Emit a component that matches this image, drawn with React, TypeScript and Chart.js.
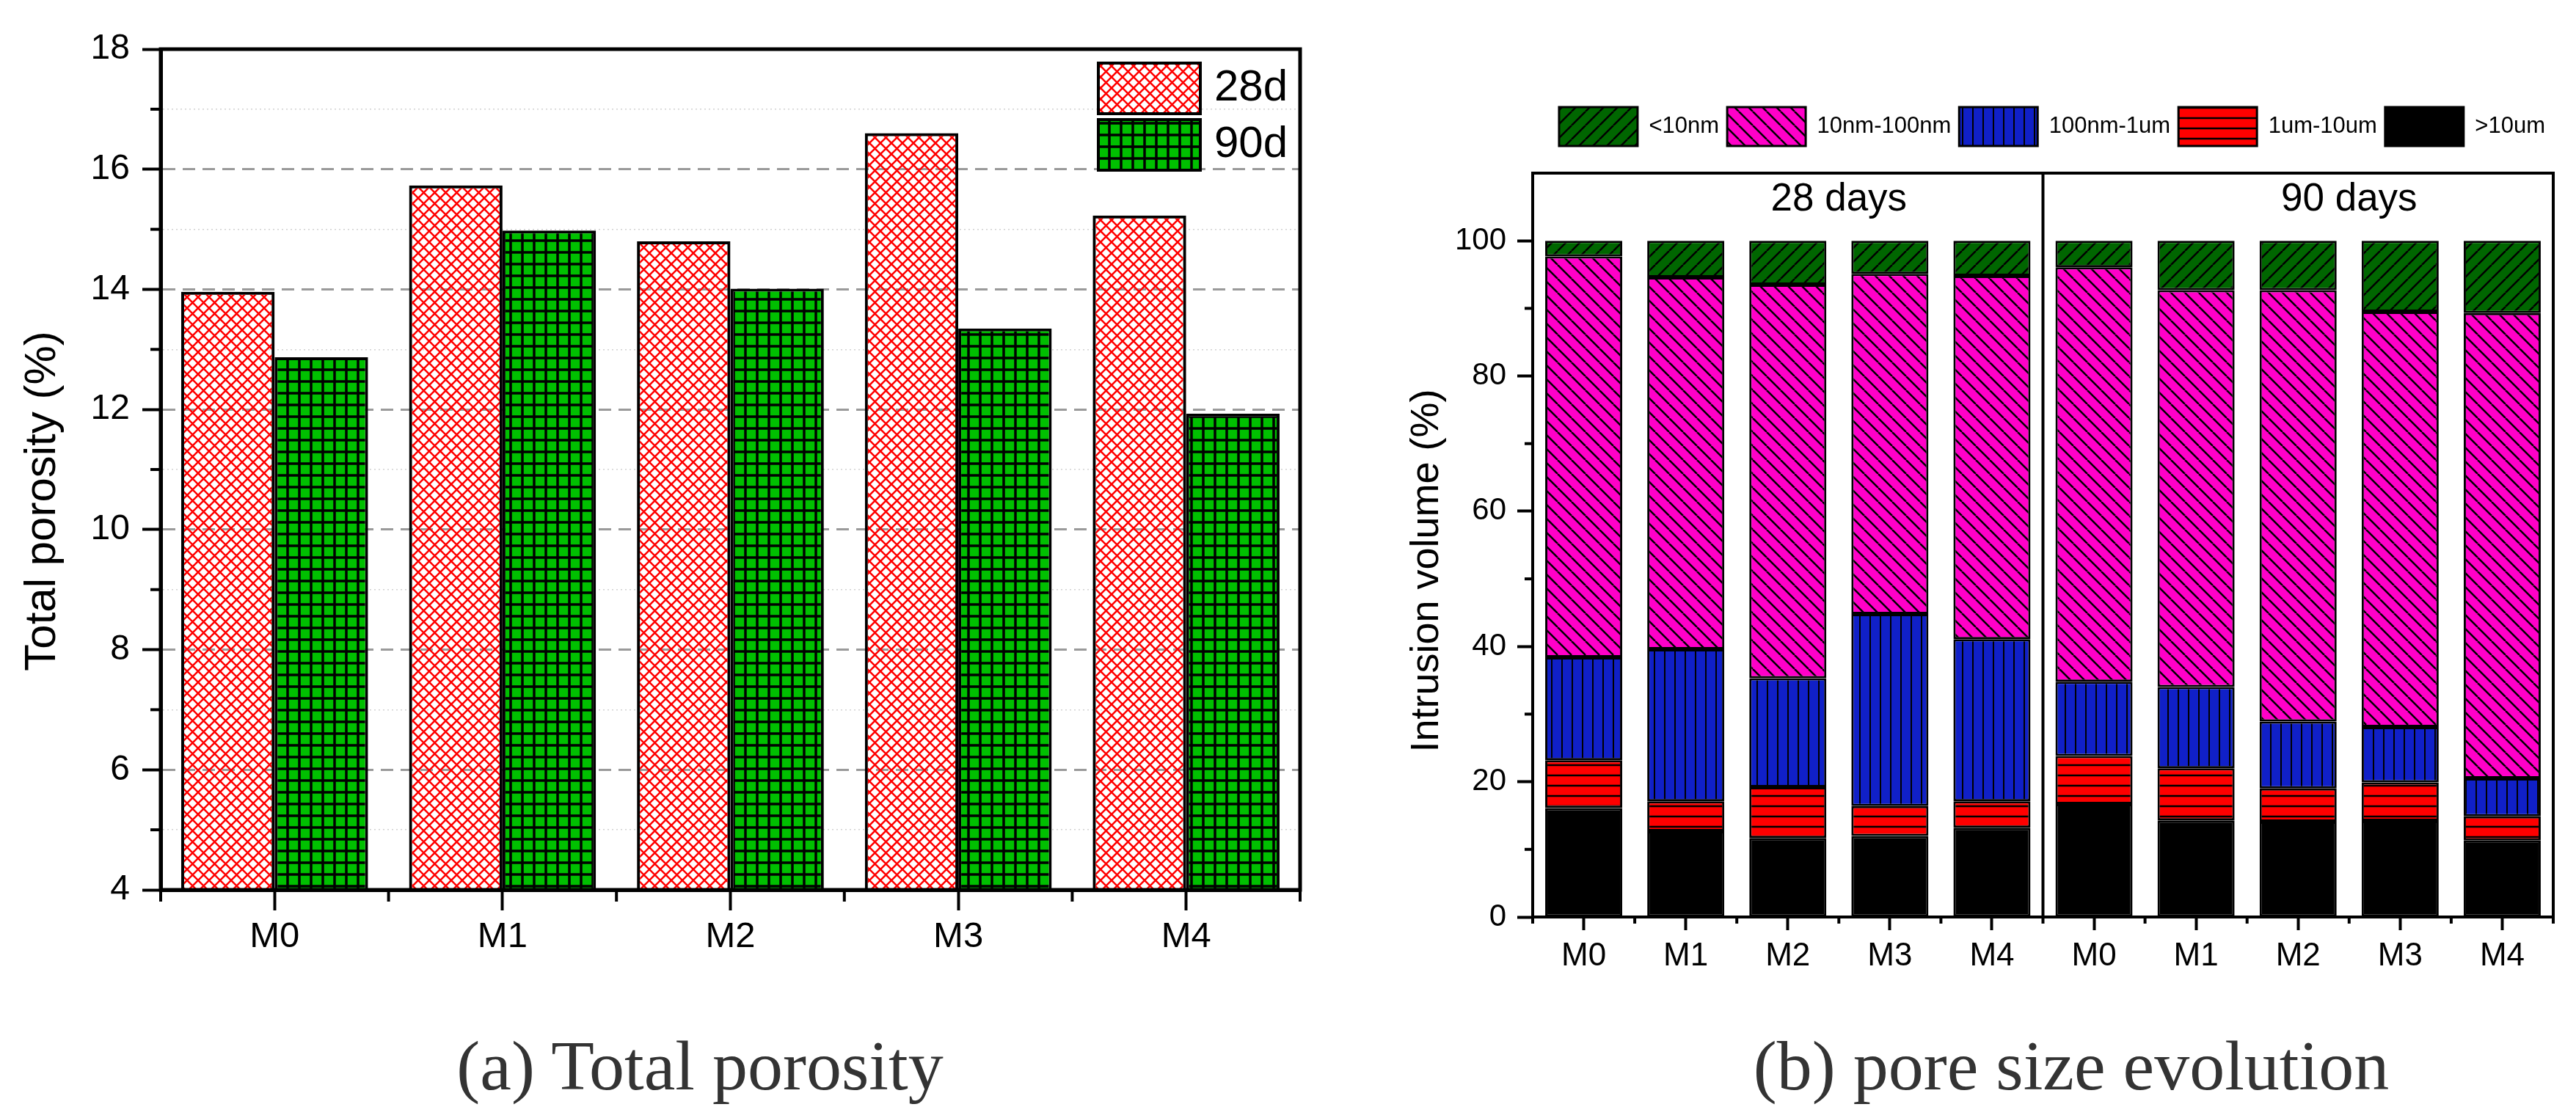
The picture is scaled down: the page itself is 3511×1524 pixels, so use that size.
import { useEffect, useRef } from "react"
import { Chart, registerables } from "chart.js"
import type { ChartConfiguration, Plugin } from "chart.js"

Chart.register(...registerables)

// (a) total porosity per mix
const mixes = ["M0", "M1", "M2", "M3", "M4"]
const porosity28d = [13.96, 15.73, 14.8, 16.6, 15.23]
const porosity90d = [12.87, 14.98, 14.01, 13.35, 11.93]

// (b) pore size distribution, 28 days then 90 days (bottom of stack first)
const ageGroups = ["28 days", "90 days"]
const poreLabels = [...mixes, ...mixes]
const poreClasses = [">10um", "1um-10um", "100nm-1um", "10nm-100nm", "<10nm"]
const above10um = [16.1, 12.7, 11.7, 12.0, 13.2, 16.7, 14.3, 14.1, 14.2, 11.3]
const um1to10 = [7.1, 4.4, 7.5, 4.4, 3.9, 7.1, 7.7, 4.9, 5.7, 3.6]
const nm100to1um = [15.2, 22.5, 16.1, 28.4, 24.0, 11.0, 12.0, 9.9, 8.2, 5.6]
const nm10to100 = [59.3, 55.0, 58.2, 50.3, 53.7, 61.3, 58.7, 63.8, 61.4, 68.8]
const below10nm = [2.3, 5.4, 6.5, 4.9, 5.2, 3.9, 7.3, 7.3, 10.5, 10.7]

const FONT = "'Liberation Sans', Arial, sans-serif"

type Hatch = "cross" | "grid" | "slash" | "backslash" | "rows" | "columns"

function hatch(
  ctx: CanvasRenderingContext2D,
  kind: Hatch,
  fill: string | null,
  ink: string,
  size: number,
  width: number
) {
  const tile = document.createElement("canvas")
  tile.width = size
  tile.height = size
  const t = tile.getContext("2d")!
  if (fill) {
    t.fillStyle = fill
    t.fillRect(0, 0, size, size)
  }
  t.strokeStyle = ink
  t.lineWidth = width
  t.beginPath()
  for (let k = -1; k <= 1; k++) {
    const o = k * size
    if (kind === "slash" || kind === "cross") {
      t.moveTo(o, size)
      t.lineTo(o + size, 0)
    }
    if (kind === "backslash" || kind === "cross") {
      t.moveTo(o, 0)
      t.lineTo(o + size, size)
    }
  }
  if (kind === "grid" || kind === "rows") {
    t.moveTo(0, size / 2)
    t.lineTo(size, size / 2)
  }
  if (kind === "grid" || kind === "columns") {
    t.moveTo(size / 2, 0)
    t.lineTo(size / 2, size)
  }
  t.stroke()
  return ctx.createPattern(tile, "repeat")!
}

interface ExtrasOpts {
  frame: number
  tick: number
  yMinor: (v: number) => boolean
  yMinorLen: number
  xMinorLen: number
  yTitle: { text: string; font: string; x: number; shift: number }
  dividers?: number[]
  groups?: { text: string; at: number }[]
  groupValue?: number
  groupFont?: string
}

// minor ticks, frame box, y title, group divider and group labels
function axisExtras(o: ExtrasOpts): Plugin<"bar"> {
  return {
    id: "axisExtras",
    afterDraw(chart) {
      const { ctx, chartArea: a, scales } = chart
      const x = scales.x
      const y = scales.y
      const line = (x1: number, y1: number, x2: number, y2: number) => {
        ctx.beginPath()
        ctx.moveTo(x1, y1)
        ctx.lineTo(x2, y2)
        ctx.stroke()
      }
      ctx.save()
      ctx.strokeStyle = "#000"
      ctx.lineWidth = o.tick
      for (const t of y.ticks) {
        if (!o.yMinor(t.value)) continue
        const p = y.getPixelForValue(t.value)
        line(a.left, p, a.left - o.yMinorLen, p)
      }
      const n = chart.data.labels!.length
      for (let i = 0; i <= n; i++) {
        const p = x.getPixelForValue(i - 0.5)
        line(p, a.bottom, p, a.bottom + o.xMinorLen)
      }
      ctx.lineWidth = o.frame
      for (const d of o.dividers ?? []) {
        const p = x.getPixelForValue(d)
        line(p, a.top, p, a.bottom)
      }
      ctx.strokeRect(a.left, a.top, a.right - a.left, a.bottom - a.top)

      ctx.fillStyle = "#000"
      ctx.textAlign = "center"
      ctx.textBaseline = "middle"
      ctx.save()
      ctx.translate(o.yTitle.x, (a.top + a.bottom) / 2 + o.yTitle.shift)
      ctx.rotate(-Math.PI / 2)
      ctx.font = o.yTitle.font
      ctx.fillText(o.yTitle.text, 0, 0)
      ctx.restore()

      if (o.groups) {
        ctx.font = o.groupFont!
        const gy = y.getPixelForValue(o.groupValue!)
        for (const g of o.groups) ctx.fillText(g.text, x.getPixelForValue(g.at), gy)
      }
      ctx.restore()
    },
  }
}

// legend boxes in the upper right of the plot
const boxLegend: Plugin<"bar"> = {
  id: "boxLegend",
  afterDraw(chart) {
    const { ctx, chartArea: a } = chart
    const boxW = 139
    const boxH = 69
    const x = a.right - 275
    chart.data.datasets.forEach((ds, i) => {
      const y = a.top + 19 + i * (boxH + 8)
      ctx.save()
      ctx.fillStyle = "#fff"
      ctx.fillRect(x, y, boxW, boxH)
      ctx.fillStyle = ds.backgroundColor as CanvasPattern
      ctx.fillRect(x, y, boxW, boxH)
      ctx.lineWidth = 4
      ctx.strokeStyle = "#000"
      ctx.strokeRect(x, y, boxW, boxH)
      ctx.fillStyle = "#000"
      ctx.font = `60px ${FONT}`
      ctx.textAlign = "left"
      ctx.textBaseline = "middle"
      ctx.fillText(ds.label ?? "", x + boxW + 19, y + boxH / 2)
      ctx.restore()
    })
  },
}

function porosityConfig(ctx: CanvasRenderingContext2D): ChartConfiguration<"bar"> {
  const isMajor = (v?: number) => v !== undefined && v % 2 === 0
  return {
    type: "bar",
    data: {
      labels: mixes,
      datasets: [
        {
          label: "28d",
          data: porosity28d,
          backgroundColor: hatch(ctx, "cross", null, "#ff0000", 15, 2.5),
          borderColor: "#000",
          borderWidth: 4,
          borderSkipped: false,
        },
        {
          label: "90d",
          data: porosity90d,
          backgroundColor: hatch(ctx, "grid", "#00c000", "#000", 16, 3.5),
          borderColor: "#000",
          borderWidth: 4,
          borderSkipped: false,
        },
      ],
    },
    options: {
      responsive: false,
      maintainAspectRatio: false,
      animation: false,
      devicePixelRatio: 1,
      events: [],
      layout: { padding: { left: 0, top: 67, right: 28, bottom: 0 } },
      datasets: { bar: { categoryPercentage: 0.82, barPercentage: 1 } },
      plugins: { legend: { display: false }, tooltip: { enabled: false } },
      scales: {
        x: {
          afterFit: (s) => {
            s.height = 187
          },
          grid: { offset: false, drawOnChartArea: false, tickLength: 28, tickWidth: 4, tickColor: "#000" },
          border: { width: 5, color: "#000" },
          ticks: { color: "#000", padding: 7, autoSkip: false, font: { family: FONT, size: 49 } },
        },
        y: {
          min: 4,
          max: 18,
          afterFit: (s) => {
            s.width = 219
          },
          ticks: {
            stepSize: 1,
            padding: 17,
            color: "#000",
            autoSkip: false,
            font: { family: FONT, size: 48 },
            callback: (v) => (isMajor(Number(v)) ? String(v) : ""),
          },
          grid: {
            tickLength: 25,
            tickWidth: 4,
            tickColor: (c) => (isMajor(c.tick?.value) ? "#000" : "transparent"),
            color: (c) => {
              const v = c.tick?.value
              if (v === undefined || v <= 4 || v >= 18) return "transparent"
              return isMajor(v) ? "#9a9a9a" : "#d2d2d2"
            },
            lineWidth: (c) => (isMajor(c.tick?.value) ? 3 : 1.5),
          },
          border: {
            width: 5,
            color: "#000",
            dash: (c) => (isMajor(c.tick?.value) ? [17, 10] : [2, 4]),
          },
        },
      },
    },
    plugins: [
      axisExtras({
        frame: 5,
        tick: 4,
        yMinor: (v) => v % 2 !== 0,
        yMinorLen: 14,
        xMinorLen: 16,
        yTitle: { text: "Total porosity (%)", font: `60px ${FONT}`, x: 58, shift: 43 },
      }),
      boxLegend,
    ],
  }
}

function poreConfig(ctx: CanvasRenderingContext2D): ChartConfiguration<"bar"> {
  const isMajor = (v?: number) => v !== undefined && v % 20 === 0 && v <= 100
  const fills = [
    "#000000",
    hatch(ctx, "rows", "#ff0000", "#000", 14, 2.5),
    hatch(ctx, "columns", "#1020c8", "#000", 14, 2),
    hatch(ctx, "backslash", "#ff00c8", "#000", 19, 2.5),
    hatch(ctx, "slash", "#006600", "#000", 19, 2.5),
  ]
  const series = [above10um, um1to10, nm100to1um, nm10to100, below10nm]
  return {
    type: "bar",
    data: {
      labels: poreLabels,
      datasets: series.map((data, i) => ({
        label: poreClasses[i],
        data,
        backgroundColor: fills[i],
        borderColor: "#000",
        borderWidth: 3,
        borderSkipped: false,
        stack: "pores",
      })),
    },
    options: {
      responsive: false,
      maintainAspectRatio: false,
      animation: false,
      devicePixelRatio: 1,
      events: [],
      layout: { padding: { left: 0, top: 135, right: 31, bottom: 0 } },
      datasets: { bar: { categoryPercentage: 0.755, barPercentage: 1 } },
      plugins: {
        tooltip: { enabled: false },
        legend: {
          position: "top",
          align: "end",
          reverse: true,
          labels: {
            boxWidth: 107,
            boxHeight: 53,
            padding: 11,
            color: "#000",
            font: { family: FONT, size: 31 },
          },
        },
      },
      scales: {
        x: {
          stacked: true,
          afterFit: (s) => {
            s.height = 150
          },
          grid: { offset: false, drawOnChartArea: false, tickLength: 18, tickWidth: 4, tickColor: "#000" },
          border: { width: 4, color: "#000" },
          ticks: { color: "#000", padding: 9, autoSkip: false, font: { family: FONT, size: 44 } },
        },
        xTop: {
          type: "category",
          position: "top",
          afterFit: (s) => {
            s.height = 27
          },
          grid: { display: false },
          border: { display: false },
          ticks: { display: false },
        },
        y: {
          stacked: true,
          min: 0,
          max: 110,
          afterFit: (s) => {
            s.width = 289
          },
          ticks: {
            stepSize: 10,
            padding: 15,
            color: "#000",
            autoSkip: false,
            font: { family: FONT, size: 42 },
            callback: (v) => (isMajor(Number(v)) ? String(v) : ""),
          },
          grid: {
            drawOnChartArea: false,
            tickLength: 21,
            tickWidth: 4,
            tickColor: (c) => (isMajor(c.tick?.value) ? "#000" : "transparent"),
          },
          border: { width: 4, color: "#000" },
        },
      },
    },
    plugins: [
      axisExtras({
        frame: 4,
        tick: 4,
        yMinor: (v) => v % 20 !== 0 && v < 110,
        yMinorLen: 11,
        xMinorLen: 9,
        yTitle: { text: "Intrusion volume (%)", font: `54px ${FONT}`, x: 145, shift: 35 },
        dividers: [mixes.length - 0.5],
        groups: ageGroups.map((text, i) => ({ text, at: i * mixes.length + mixes.length / 2 })),
        groupValue: 106,
        groupFont: `53px ${FONT}`,
      }),
    ],
  }
}

function ChartCanvas({
  make,
  left,
  width,
  height,
}: {
  make: (ctx: CanvasRenderingContext2D) => ChartConfiguration<"bar">
  left: number
  width: number
  height: number
}) {
  const ref = useRef<HTMLCanvasElement>(null)

  useEffect(() => {
    const canvas = ref.current
    if (!canvas) return
    const ctx = canvas.getContext("2d")
    if (!ctx) return
    const chart = new Chart(ctx, make(ctx))
    return () => {
      chart.destroy()
    }
  }, [make])

  return (
    <canvas
      ref={ref}
      width={width}
      height={height}
      style={{ position: "absolute", left, top: 0, width, height }}
    />
  )
}

const captionStyle = {
  position: "absolute" as const,
  top: 1405,
  textAlign: "center" as const,
  fontFamily: "'Liberation Serif', 'Times New Roman', serif",
  fontSize: 96,
  lineHeight: "96px",
  color: "#333",
  whiteSpace: "nowrap" as const,
}

export default function App() {
  return (
    <div
      style={{
        position: "absolute",
        left: 0,
        top: 0,
        width: 3511,
        height: 1524,
        background: "#fff",
        overflow: "hidden",
      }}
    >
      <ChartCanvas make={porosityConfig} left={0} width={1800} height={1400} />
      <ChartCanvas make={poreConfig} left={1800} width={1711} height={1400} />
      <div style={{ ...captionStyle, left: 0, width: 1908 }}>(a) Total porosity</div>
      <div style={{ ...captionStyle, left: 2223, width: 1200 }}>(b) pore size evolution</div>
    </div>
  )
}
